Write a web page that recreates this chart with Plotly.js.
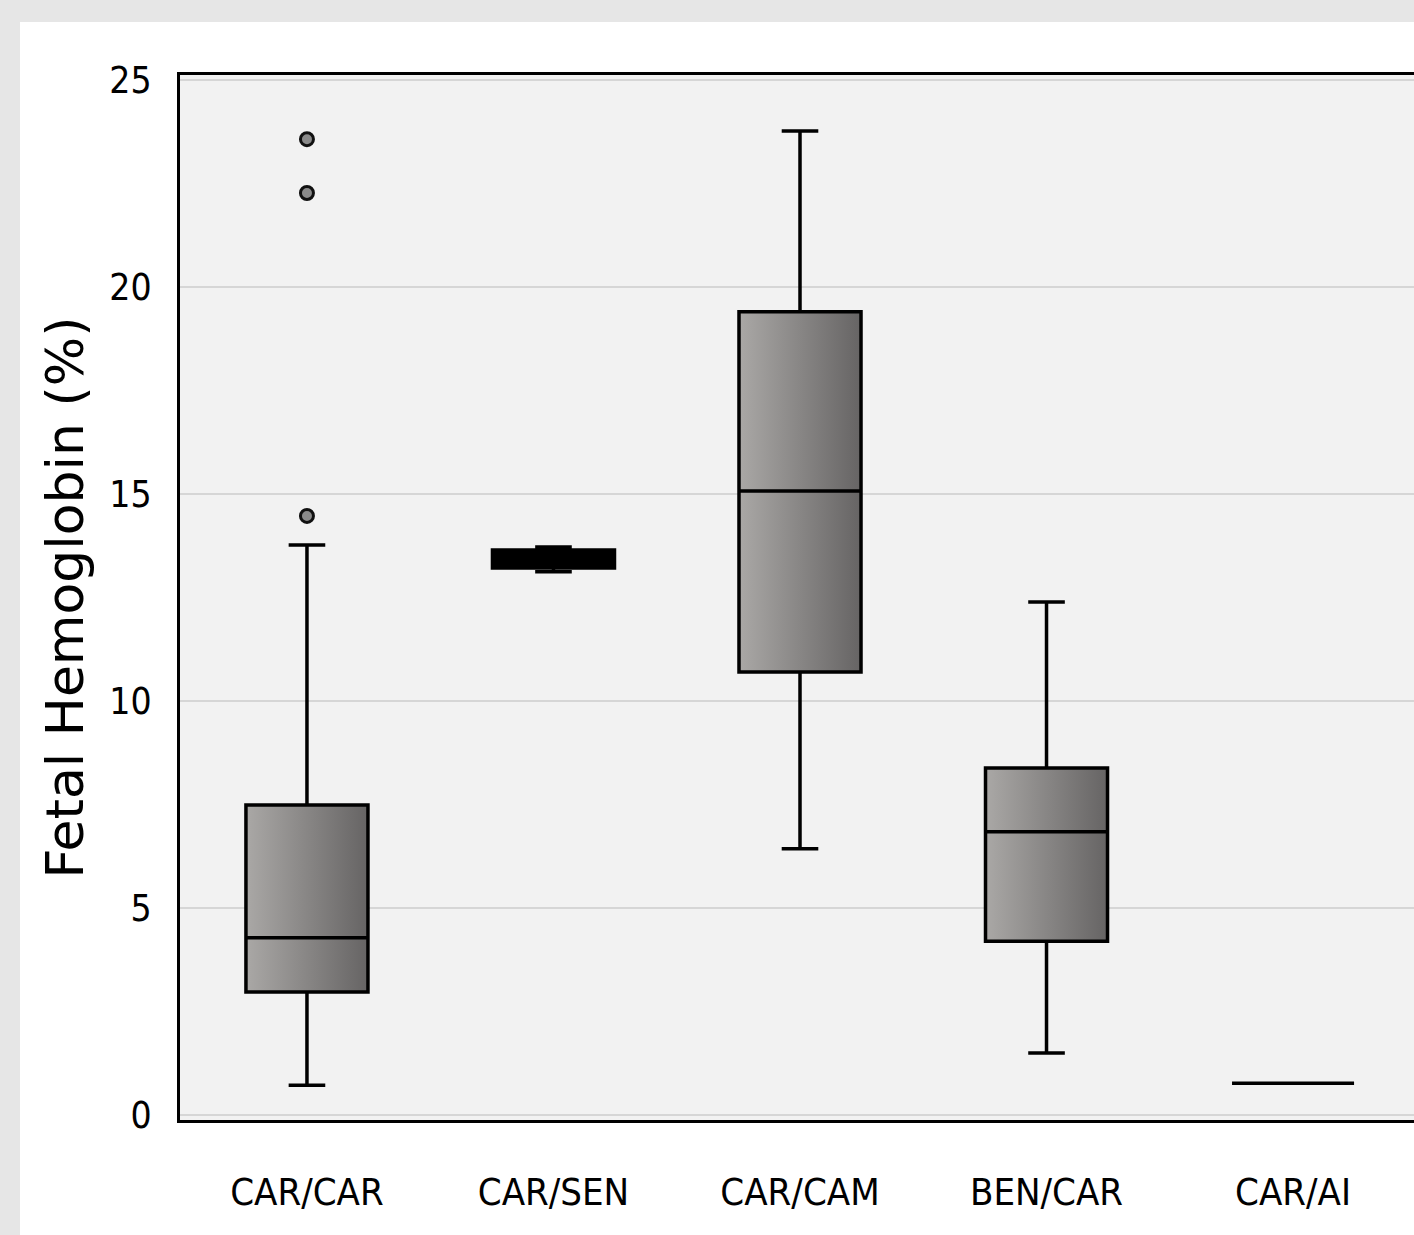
<!DOCTYPE html>
<html>
<head>
<meta charset="utf-8">
<script src="https://cdn.plot.ly/plotly-3.0.1.min.js"></script>
<style>
  html, body { margin:0; padding:0; background:#e6e6e6; overflow:hidden; width:1414px; height:1235px; }
  #chart { position:absolute; left:20px; top:22px; width:1410px; height:1213px; background:#fff; }
</style>
</head>
<body>
<div id="chart"></div>
<script>
// Data
const categories = ["CAR/CAR", "CAR/SEN", "CAR/CAM", "BEN/CAR", "CAR/AI"];
const lowerWhisker = [0.72, 13.12, 6.43, 1.50, 0.77];
const q1Values     = [2.97, 13.21, 10.70, 4.20, 0.77];
const medianValues = [4.28, 13.43, 15.07, 6.84, 0.77];
const q3Values     = [7.49, 13.65, 19.40, 8.38, 0.77];
const upperWhisker = [13.77, 13.72, 23.77, 12.39, 0.77];
const outlierGroup = [0, 0, 0];
const outlierValues = [23.57, 22.27, 14.47];
const yTicks = [0, 5, 10, 15, 20, 25];

const positions = categories.map((c, i) => i);
const boxW = 0.495;

const traces = [];
// Gradient fills (underneath, on base axes); very thin boxes render as solid black
positions.forEach((p, i) => {
  const thin = (q3Values[i] - q1Values[i]) < 0.6;
  if (q3Values[i] - q1Values[i] < 0.01) return;
  traces.push({
    type: 'scatter', mode: 'lines', xaxis: 'x', yaxis: 'y',
    x: [p - boxW/2, p + boxW/2, p + boxW/2, p - boxW/2, p - boxW/2],
    y: [q1Values[i], q1Values[i], q3Values[i], q3Values[i], q1Values[i]],
    fill: 'toself', line: {width: 0, color: 'rgba(0,0,0,0)'},
    fillgradient: {type: 'horizontal', colorscale: thin ? [[0, '#000'], [1, '#000']] : [[0, '#aaa8a6'], [1, '#666464']]},
    hoverinfo: 'skip', showlegend: false
  });
});
// Box outlines (on overlay axes, drawn on top)
traces.push({
  type: 'box', xaxis: 'x2', yaxis: 'y2',
  x: positions, q1: q1Values, median: medianValues, q3: q3Values,
  lowerfence: lowerWhisker, upperfence: upperWhisker,
  width: boxW, whiskerwidth: 0.3,
  fillcolor: 'rgba(0,0,0,0)', line: {color: '#000', width: 3.5},
  boxpoints: false, showlegend: false
});
// Outliers
traces.push({
  type: 'scatter', mode: 'markers', xaxis: 'x2', yaxis: 'y2',
  x: outlierGroup, y: outlierValues,
  marker: {size: 13, color: '#8a8a8a', line: {color: '#111', width: 3}},
  showlegend: false
});

const xr = [-0.515, 4.515];
const yr = [-0.12, 25.12];
const narrow = '"Liberation Sans Narrow", "DejaVu Sans Condensed", "DejaVu Sans", sans-serif';

const layout = {
  width: 1410, height: 1213,
  margin: {l: 160, r: 10, t: 53, b: 115},
  paper_bgcolor: '#ffffff', plot_bgcolor: '#f2f2f2',
  showlegend: false,
  xaxis: {
    type: 'linear', range: xr, tickvals: positions, ticktext: categories,
    showgrid: false, zeroline: false, ticks: '',
    showline: true, linecolor: '#000', linewidth: 3, mirror: true,
    tickfont: {family: narrow, size: 38, color: '#000'},
    ticklabelstandoff: 36
  },
  yaxis: {
    range: yr, tickvals: yTicks, ticktext: yTicks.map(String),
    showgrid: true, gridcolor: '#d6d6d6', gridwidth: 2, zeroline: false, ticks: '',
    showline: true, linecolor: '#000', linewidth: 3, mirror: true,
    tickfont: {family: narrow, size: 37, color: '#000'},
    ticklabelstandoff: 18,
    title: {text: 'Fetal Hemoglobin (%)', font: {family: '"DejaVu Sans", Verdana, sans-serif', size: 52, color: '#000'}, standoff: 10}
  },
  xaxis2: {overlaying: 'x', range: xr, visible: false, type: 'linear'},
  yaxis2: {overlaying: 'y', range: yr, visible: false}
};

Plotly.newPlot('chart', traces, layout, {staticPlot: true, displayModeBar: false});
</script>
</body>
</html>
